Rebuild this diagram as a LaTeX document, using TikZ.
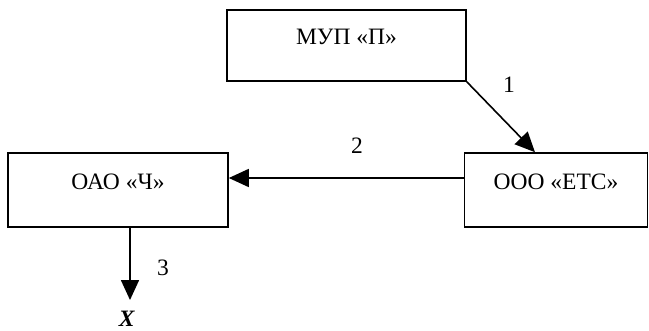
\documentclass[tikz,border=0pt]{standalone}
\usepackage{fontspec}
\setmainfont{Liberation Serif}
\usetikzlibrary{arrows.meta}
\begin{document}
\begin{tikzpicture}[x=1pt,y=-1pt,
  font=\fontsize{23.5}{28}\selectfont,
  orgbox/.style={draw, line width=1.6pt, rectangle, inner sep=0pt,
    text height=16pt, text depth=18pt},
  flow/.style={line width=1.6pt, -{Triangle[length=20pt,width=18pt]}},
  lbl/.style={inner sep=0pt}]
\useasboundingbox (0,0) rectangle (649,330);
% organisations
\node[orgbox, minimum width=239pt, minimum height=71pt] (mup) at (346.5,45.5) {МУП «П»};
\node[orgbox, minimum width=220pt, minimum height=74pt] (oao) at (118,190) {ОАО «Ч»};
\node[orgbox, minimum width=183pt, minimum height=74pt] (ets) at (556,190) {ООО «ЕТС»};
\coordinate (out) at (130,300);
% flows
\draw[flow] (mup.south east) -- ([xshift=-21pt]ets.north);
\draw[flow] ([yshift=12pt]ets.west) -- ([yshift=12pt]oao.east);
\draw[flow] ([xshift=12pt]oao.south) -- (out);
% flow numbers
\node[lbl] (n1) at (509,85) {1};
\node[lbl] (n2) at (357,146) {2};
\node[lbl] (n3) at (163,268) {3};
\node[lbl, anchor=base] (x) at (127,326) {\textbf{\textit{X}}};
\end{tikzpicture}
\end{document}
